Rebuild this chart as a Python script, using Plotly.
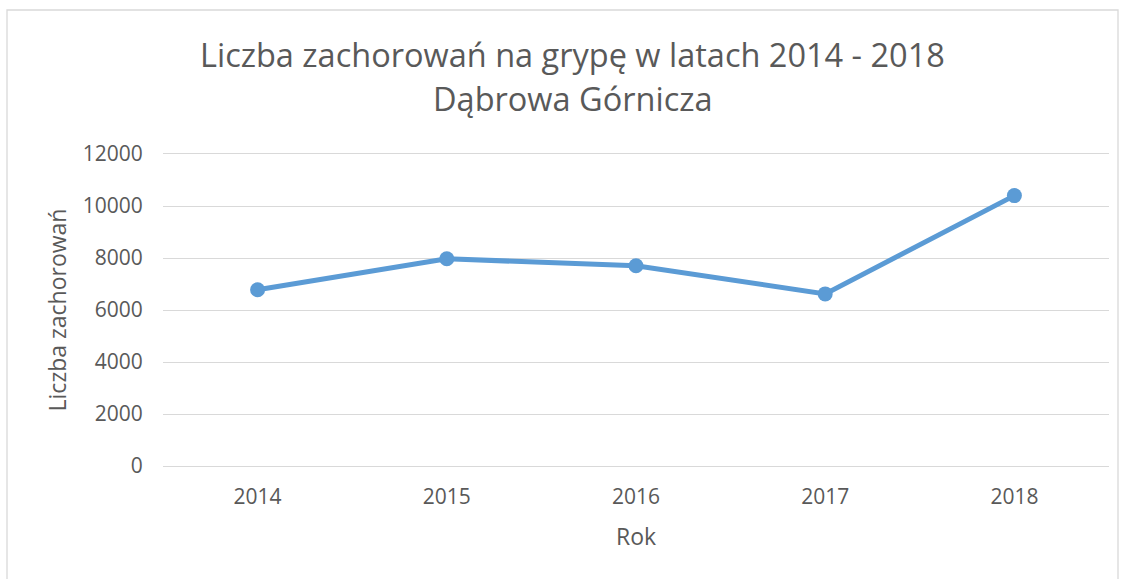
import plotly.graph_objects as go

years = ["2014", "2015", "2016", "2017", "2018"]
cases = [6780, 7970, 7700, 6620, 10400]
y_ticks = [0, 2000, 4000, 6000, 8000, 10000, 12000]

title_line1 = "Liczba zachorowań na grypę w latach 2014 - 2018"
title_line2 = "Dąbrowa Górnicza"
x_title = "Rok"
y_title = "Liczba zachorowań"

W, H = 1124, 579
L, R, T, B = 163, 15, 154, 113
pw, ph = W - L - R, H - T - B

def px_to_paper_x(px):
    return (px - L) / pw

def px_to_paper_y(py):
    return (H - B - py) / ph

blue = "#5B9BD5"
txt = "#595959"
grid = "#D9D9D9"
font = "Open Sans"

fig = go.Figure(
    go.Scatter(
        x=years, y=cases, mode="lines+markers",
        line=dict(color=blue, width=5),
        marker=dict(color=blue, size=15),
        showlegend=False,
    )
)

fig.update_layout(
    width=W, height=H,
    margin=dict(l=L, r=R, t=T, b=B),
    paper_bgcolor="white", plot_bgcolor="white",
    font=dict(family=font, color=txt, size=21),
    xaxis=dict(
        type="category", range=[-0.5, 4.5],
        showgrid=False, zeroline=False,
        showline=True, mirror=True, linecolor=grid, linewidth=1.3,
        ticks="outside", ticklen=12, tickcolor="rgba(0,0,0,0)",
        tickfont=dict(size=21, color=txt),
        title=dict(text=x_title, font=dict(size=23, color=txt), standoff=19),
    ),
    yaxis=dict(
        range=[0, 12000], tickvals=y_ticks,
        ticktext=[str(v) for v in y_ticks],
        showgrid=True, gridcolor=grid, gridwidth=1.3,
        zeroline=False, showline=False,
        ticks="outside", ticklen=15, tickcolor="rgba(0,0,0,0)",
        tickfont=dict(size=21, color=txt),
        title=dict(text=y_title, font=dict(size=23, color=txt), standoff=9),
    ),
    shapes=[dict(
        type="rect", xref="paper", yref="paper",
        x0=px_to_paper_x(7), x1=px_to_paper_x(1118),
        y0=px_to_paper_y(590), y1=px_to_paper_y(10),
        line=dict(color=grid, width=1.3), fillcolor="rgba(0,0,0,0)",
        layer="below",
    )],
    annotations=[
        dict(text=title_line1, x=px_to_paper_x(572), y=px_to_paper_y(54),
             xref="paper", yref="paper", showarrow=False,
             xanchor="center", yanchor="middle",
             font=dict(family=font, size=32.5, color=txt)),
        dict(text=title_line2, x=px_to_paper_x(573), y=px_to_paper_y(99),
             xref="paper", yref="paper", showarrow=False,
             xanchor="center", yanchor="middle",
             font=dict(family=font, size=32.5, color=txt)),
    ],
)

fig.write_html("out.html", config={"displayModeBar": False},
               post_script="document.body.style.margin='0';")
